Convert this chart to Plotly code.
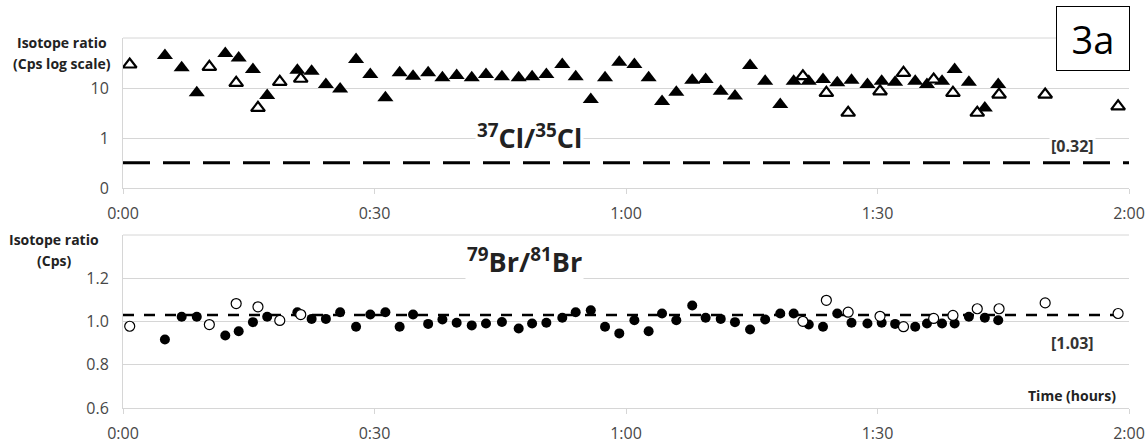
import plotly.graph_objects as go

# ---------------- data (time in minutes) ----------------
filled_t = [5.0, 7.0, 8.8, 12.2, 13.8, 15.5, 17.2, 20.8, 22.5, 24.2,
            25.9, 27.8, 29.5, 31.3, 33.0, 34.6, 36.4, 38.1, 39.8, 41.6,
            43.3, 45.2, 47.2, 48.8, 50.5, 52.4, 54.0, 55.8, 57.5, 59.2,
            61.0, 62.7, 64.3, 66.0, 67.9, 69.5, 71.3, 73.0, 74.8, 76.6,
            78.4, 80.0, 81.8, 83.5, 85.2, 86.9, 88.8, 90.5, 92.1, 94.5,
            95.9, 97.7, 99.2, 100.9, 102.8, 104.4]
cl_filled = [44.7, 25.4, 8.0, 49.0, 40.0, 23.4, 7.1, 22.7, 21.7, 11.7,
             9.6, 37.0, 18.6, 6.4, 20.1, 17.2, 20.1, 16.0, 17.8, 16.0,
             18.6, 16.8, 16.0, 16.8, 18.6, 29.5, 16.8, 5.9, 16.0, 32.8,
             29.5, 16.0, 5.4, 8.2, 14.3, 14.8, 8.6, 6.9, 28.2, 13.7,
             4.7, 13.7, 13.7, 14.8, 12.7, 14.3, 11.7, 13.7, 13.1, 13.7,
             11.7, 13.7, 23.4, 13.1, 4.0, 11.7]
br_filled = [0.917, 1.022, 1.022, 0.935, 0.955, 0.997, 1.022, 1.043, 1.012, 1.012,
             1.043, 0.976, 1.032, 1.043, 0.976, 1.032, 0.989, 1.009, 0.994, 0.982,
             0.991, 0.998, 0.968, 0.991, 0.994, 1.017, 1.043, 1.052, 0.976, 0.945,
             1.006, 0.955, 1.037, 1.006, 1.074, 1.017, 1.012, 0.997, 0.963, 1.009,
             1.037, 1.037, 0.986, 0.976, 1.037, 0.994, 0.991, 0.994, 0.989, 0.976,
             0.991, 0.991, 0.991, 1.022, 1.017, 1.006]

open_t = [0.8, 10.3, 13.5, 16.1, 18.7, 21.2, 81.1, 83.9, 86.5, 90.3,
          93.1, 96.7, 99.0, 101.9, 104.5, 110.0, 118.7]
cl_open = [29.5, 26.5, 12.7, 4.0, 13.3, 15.3, 17.2, 8.0, 3.2, 8.6,
           20.1, 14.8, 8.0, 3.2, 7.4, 7.4, 4.3]
br_open = [0.978, 0.986, 1.083, 1.068, 1.005, 1.032, 1.001, 1.098, 1.043, 1.024,
           0.976, 1.014, 1.028, 1.059, 1.059, 1.086, 1.037]

ref_t = [0, 120]
cl_ref = 0.32
br_ref = 1.03

x_tickvals = [0, 30, 60, 90, 120]
x_ticktext = ["0:00", "0:30", "1:00", "1:30", "2:00"]
cl_tickvals = [0.1, 1, 10]
cl_ticktext = ["0", "1", "10"]
br_tickvals = [0.6, 0.8, 1.0, 1.2]
br_ticktext = ["0.6", "0.8", "1.0", "1.2"]

# ---------------- figure ----------------
W, H = 1147, 444
def px(x):
    return x / W
def py(y):
    return 1 - y / H

FONT = "Open Sans"
GRID = "#d6d6d6"
TICKC = "#474747"

fig = go.Figure()

# top panel
fig.add_trace(go.Scatter(x=ref_t, y=[cl_ref, cl_ref], mode="lines",
                         line=dict(color="black", width=3, dash="27px,13px"),
                         xaxis="x", yaxis="y", showlegend=False, hoverinfo="skip"))
fig.add_trace(go.Scatter(x=filled_t, y=cl_filled, mode="markers",
                         marker=dict(symbol="triangle-up", size=14, color="black"),
                         xaxis="x", yaxis="y", showlegend=False))
fig.add_trace(go.Scatter(x=open_t, y=cl_open, mode="markers",
                         marker=dict(symbol="triangle-up", size=12, color="white",
                                     line=dict(color="black", width=2.2)),
                         xaxis="x", yaxis="y", showlegend=False))

# bottom panel
fig.add_trace(go.Scatter(x=ref_t, y=[br_ref, br_ref], mode="lines",
                         line=dict(color="black", width=2.5, dash="11px,10px"),
                         xaxis="x2", yaxis="y2", showlegend=False, hoverinfo="skip"))
fig.add_trace(go.Scatter(x=filled_t, y=br_filled, mode="markers",
                         marker=dict(symbol="circle", size=10, color="black"),
                         xaxis="x2", yaxis="y2", showlegend=False))
fig.add_trace(go.Scatter(x=open_t, y=br_open, mode="markers",
                         marker=dict(symbol="circle", size=10, color="white",
                                     line=dict(color="black", width=1.2)),
                         xaxis="x2", yaxis="y2", showlegend=False))

xdom = [px(123), px(1129)]
xaxis_common = dict(range=[0, 120], tickvals=x_tickvals, ticktext=x_ticktext,
                    showgrid=False, zeroline=False, showline=True, linecolor=GRID,
                    linewidth=1, ticks="outside", ticklen=5, tickcolor=GRID,
                    ticklabelstandoff=6, automargin=False,
                    tickfont=dict(family=FONT, size=16, color=TICKC))
yaxis_common = dict(showgrid=True, gridcolor=GRID, gridwidth=1, zeroline=False,
                    showline=True, linecolor=GRID, linewidth=1, ticks="",
                    ticklabelstandoff=10, automargin=False,
                    tickfont=dict(family=FONT, size=16, color=TICKC))

fig.update_layout(
    width=W, height=H,
    margin=dict(l=0, r=0, t=0, b=0, pad=0, autoexpand=False),
    paper_bgcolor="white", plot_bgcolor="white",
    xaxis=dict(domain=xdom, anchor="y", **xaxis_common),
    yaxis=dict(domain=[py(188), py(38)], anchor="x", type="log", range=[-1, 2],
               tickvals=cl_tickvals, ticktext=cl_ticktext, **yaxis_common),
    xaxis2=dict(domain=xdom, anchor="y2", **xaxis_common),
    yaxis2=dict(domain=[py(408), py(235)], anchor="x2", range=[0.6, 1.4],
                tickvals=br_tickvals, ticktext=br_ticktext, **yaxis_common),
)

# top gridlines of each panel (unlabelled)
for xr, yr in (("x", "y"), ("x2", "y2")):
    fig.add_shape(type="line", xref=f"{xr} domain", yref=f"{yr} domain",
                  x0=0, x1=1, y0=1, y1=1, line=dict(color=GRID, width=1), layer="below")

def ann(text, x, y, size, bold=False, bg=None, xanchor="center", color="black", **kw):
    t = f"<b>{text}</b>" if bold else text
    d = dict(text=t, x=px(x), y=py(y), xref="paper", yref="paper",
             showarrow=False, xanchor=xanchor, yanchor="middle",
             font=dict(family=FONT, size=size, color=color))
    if bg:
        d["bgcolor"] = bg
    d.update(kw)
    fig.add_annotation(**d)

# axis titles
ann("Isotope ratio", 62, 42, 14, bold=True, color="#222222")
ann("(Cps log scale)", 62, 63, 14, bold=True, color="#222222")
ann("Isotope ratio", 54, 239, 14, bold=True, color="#222222")
ann("(Cps)", 54, 260, 14, bold=True, color="#222222")

# series labels
ann("<sup>37</sup>Cl/<sup>35</sup>Cl", 529, 136, 27, bold=True, bg="white", color="#222222")
ann("<sup>79</sup>Br/<sup>81</sup>Br", 524, 260, 27, bold=True, bg="white", color="#222222")
ann("[0.32]", 1072, 146, 16, bold=True, bg="white", color="#333333")
ann("[1.03]", 1072, 343, 16, bold=True, bg="white", color="#333333")
ann("Time (hours)", 1072, 395, 14, bold=True, color="#222222")

# panel label box
ann("3a", 1093, 38, 38, bg="white", bordercolor="black", borderwidth=1,
    width=70, height=61)

fig.write_html("out.html", config={"displayModeBar": False},
               post_script="document.body.style.margin='0';document.body.style.overflow='hidden';")
